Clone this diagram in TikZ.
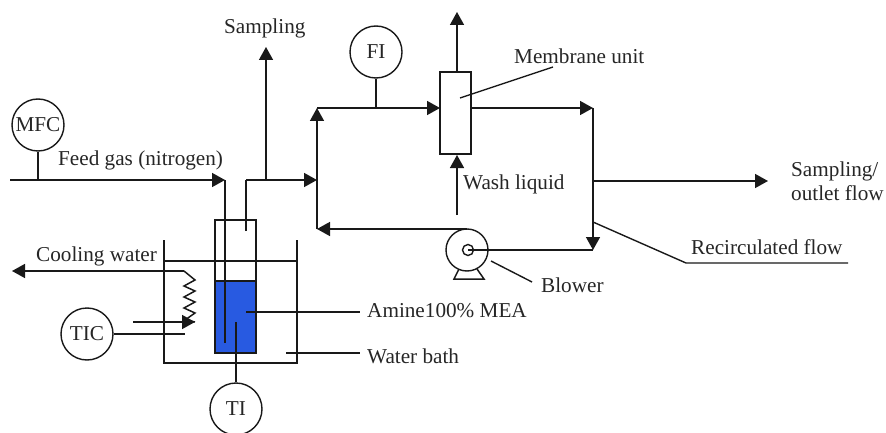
\documentclass[tikz,border=0pt]{standalone}
\usepackage{fontspec}
\setmainfont{Liberation Serif}
\usetikzlibrary{arrows.meta,calc}
\definecolor{liquid}{RGB}{40,90,225}
\tikzset{
  pipe/.style={line width=1.5pt,draw=black!90},
  flow/.style={pipe,-{Triangle[length=13pt,width=14pt]}},
  instr/.style={circle,draw=black!90,line width=1.4pt,minimum size=52pt,inner sep=0pt,fill=white},
  lbl/.style={font=\fontsize{21.2}{23}\selectfont,text=black!85,inner sep=0pt},
  lead/.style={line width=1.4pt,draw=black!90}
}
\begin{document}
\begin{tikzpicture}[x=1pt,y=-1pt]
\useasboundingbox (0,0) rectangle (886,433);
% vessel
\fill[fill=liquid] (215,281) rectangle (256,353);
\node[draw=black!90,line width=1.5pt,minimum width=41pt,minimum height=133pt,inner sep=0pt] (vessel) at (235.5,286.5) {};
\draw[pipe] (vessel.west |- 0,281) -- (vessel.east |- 0,281);
% bath
\coordinate (bathTL) at (164,240); \coordinate (bathBL) at (164,363);
\coordinate (bathBR) at (297,363); \coordinate (bathTR) at (297,240);
\draw[pipe] (bathTL) -- (bathBL) -- (bathBR) -- (bathTR);
\draw[pipe] (164,261) -- (297,261);
% instruments
\node[instr] (mfc) at (38,125) {}; \node[lbl] at (mfc) {MFC};
\node[instr] (tic) at (87,334) {}; \node[lbl] at (tic) {TIC};
\node[instr] (ti) at (236,409) {}; \node[lbl] at (ti) {TI};
\node[instr] (fi) at (376,52) {}; \node[lbl] at (fi) {FI};
% feed
\coordinate (feedS) at (10,180); \coordinate (feedE) at (225,180);
\coordinate (feedTip) at (225,343);
\coordinate (mfcJ) at (38,180);
\draw[flow] (feedS) -- (feedE);
\draw[pipe] (feedE) -- (feedTip);
\draw[pipe] (mfc) -- (mfcJ);
\node[lbl,anchor=base west] (feedl) at (58,165) {Feed gas (nitrogen)};
% outlet
\coordinate (outB) at (246,231); \coordinate (outT) at (246,180);
\coordinate (mix) at (317,180); \coordinate (sampJ) at (266,180); \coordinate (sampT) at (266,47);
\draw[pipe] (outB) -- (outT);
\draw[flow] (outT) -- (mix);
\draw[flow] (sampJ) -- (sampT);
\node[lbl,anchor=base west] (samp) at (224,34) {Sampling};
% TI/TIC
\coordinate (tiT) at (236,322);
\draw[pipe] (ti) -- (tiT);
\coordinate (ticE) at (185,334);
\draw[pipe] (tic) -- (ticE);
\coordinate (coilIn) at (133,322); \coordinate (coilTip) at (195,322);
\draw[flow] (coilIn) -- (coilTip);
\coordinate (coolEnd) at (12,271);
\draw[flow] (184,271) -- (coolEnd);
\draw[pipe] (184,271) -- (195,280) -- (184,286) -- (195,291) -- (184,297) -- (195,302) -- (184,308) -- (195,313) -- (185,320) -- (195,322);
\node[lbl,anchor=base west] (cool) at (36,261) {Cooling water};
\node[lbl,anchor=west] (wb) at (367,356) {Water bath};
\node[lbl,anchor=west] (am) at (367,311) {Amine100\% MEA};
\coordinate (amS) at (246,312); \coordinate (amE) at (360,312);
\draw[lead] (amS) -- (amE);
\coordinate (wbS) at (286,353); \coordinate (wbE) at (360,353);
\draw[lead] (wbS) -- (wbE);
% loop
\coordinate (loopBL) at (317,229); \coordinate (loopTL) at (317,108);
\node[draw=black!90,line width=1.5pt,minimum width=31pt,minimum height=82pt,inner sep=0pt] (mem) at (455.5,113) {};
\coordinate (memIn) at (440,108); \coordinate (memOut) at (471,108);
\coordinate (loopTR) at (593,108); \coordinate (loopBR) at (593,250);
\draw[flow] (loopBL) -- (loopTL);
\draw[flow] (loopTL) -- (memIn);
\draw[flow] (memOut) -- (loopTR);
\draw[flow] (loopTR) -- (loopBR);
\draw[pipe] (fi) -- (376,108);
\coordinate (memTop) at (457,72); \coordinate (memTopE) at (457,12);
\draw[flow] (memTop) -- (memTopE);
\coordinate (washS) at (457,215); \coordinate (washE) at (457,155);
\draw[flow] (washS) -- (washE);
\node[lbl,anchor=base west] (wash) at (463,189) {Wash liquid};
\node[lbl,anchor=base west] (memb) at (514,64) {Membrane unit};
\coordinate (memL) at (460,98); \coordinate (memLE) at (553,67);
\draw[lead] (memL) -- (memLE);
% blower
\coordinate (feetTL) at (459,269); \coordinate (feetTR) at (477,269);
\draw[pipe] (feetTL) -- (454,279) -- (484,279) -- (feetTR);
\node[circle,draw=black!90,line width=1.4pt,minimum size=42pt,inner sep=0pt,fill=white] (blower) at (467,250) {};
\node[circle,draw=black!90,line width=1.4pt,minimum size=11pt,inner sep=0pt] (eye) at (468,250) {};
\coordinate (blowerTop) at (467,229);
\draw[pipe] (eye.center) -- (loopBR);
\draw[flow] (blowerTop) -- (loopBL);
\coordinate (blS) at (491,261); \coordinate (blE) at (532,282);
\draw[lead] (blS) -- (blE);
\node[lbl,anchor=base west] (blowl) at (541,292) {Blower};
% outlet
\coordinate (outJ) at (593,181); \coordinate (outTip) at (768,181);
\draw[flow] (outJ) -- (outTip);
\node[lbl,anchor=base west] (s1) at (791,176) {Sampling/};
\node[lbl,anchor=base west] (s2) at (791,200) {outlet flow};
\coordinate (recA) at (593,222); \coordinate (recB) at (686,263); \coordinate (recC) at (848,263);
\draw[lead] (recA) -- (recB) -- (recC);
\node[lbl,anchor=base west] (rec) at (691,254) {Recirculated flow};
\end{tikzpicture}
\end{document}
